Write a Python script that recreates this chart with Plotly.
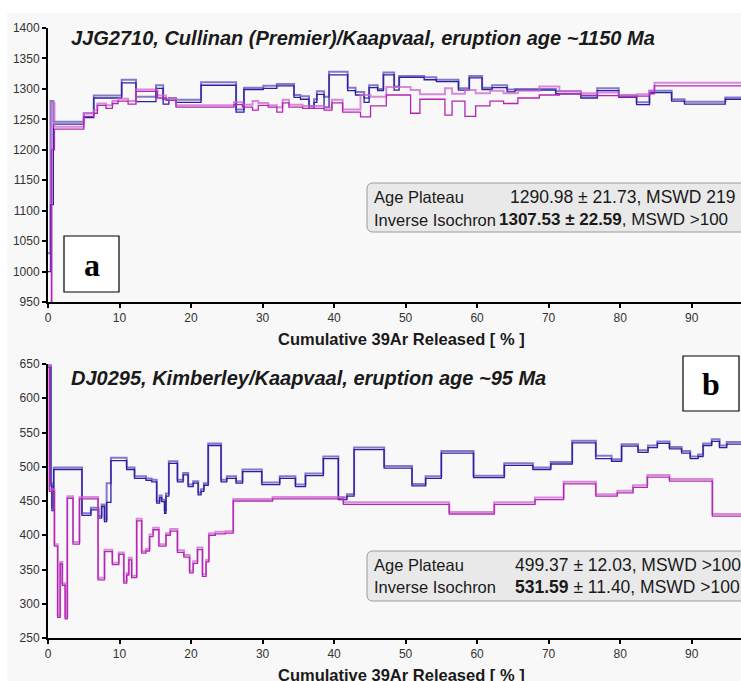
import plotly.graph_objects as go

# ---------------- DATA ----------------
# Panel a: JJG2710 (Cullinan)
a_blue_edges = [0, 0.35, 0.75, 5.0, 6.4, 10.3, 12.3, 15.1, 16.1, 16.9, 17.9, 21.4, 26.3, 27.4, 30.1, 32.0,
                34.4, 35.3, 36.5, 37.2, 37.6, 38.6, 39.3, 41.9, 43.0, 44.2, 44.9, 46.1, 46.9, 48.4, 49.1,
                52.6, 54.3, 57.4, 58.9, 60.7, 62.1, 64.2, 65.3, 71.0, 74.5, 76.8, 79.8, 82.3, 84.1, 87.2,
                89.0, 94.7, 100]
a_blue_hi = [1030, 1280, 1246, 1260, 1289, 1315, 1287, 1306, 1283, 1285, 1282, 1311, 1266, 1302, 1305,
             1308, 1290, 1288, 1272, 1283, 1296, 1287, 1328, 1302, 1295, 1285, 1306, 1300, 1327, 1304,
             1321, 1319, 1315, 1301, 1321, 1302, 1306, 1299, 1300, 1296, 1289, 1301, 1289, 1278, 1297,
             1283, 1279, 1286]
a_blue_lo = [1000, 1110, 1242, 1253, 1285, 1310, 1279, 1301, 1275, 1281, 1278, 1306, 1262, 1299, 1301,
             1305, 1286, 1283, 1268, 1278, 1291, 1270, 1323, 1297, 1290, 1278, 1302, 1297, 1323, 1298,
             1319, 1315, 1312, 1298, 1318, 1299, 1302, 1295, 1298, 1292, 1285, 1297, 1286, 1274, 1294,
             1280, 1275, 1283]

a_mag_edges = [0, 0.5, 0.9, 5.0, 6.4, 6.9, 8.1, 9.0, 9.8, 11.2, 12.3, 15.3, 16.5, 17.9, 23.0, 26.0, 27.2,
               28.6, 29.4, 30.8, 32.0, 32.8, 33.7, 35.6, 38.6, 39.7, 41.2, 43.7, 45.1, 47.3, 50.7, 52.0,
               55.5, 56.5, 58.3, 59.8, 61.8, 63.7, 65.7, 68.7, 71.5, 74.5, 76.8, 79.8, 82.3, 84.1, 84.8, 100]
a_mag_hi = [940, 1277, 1238, 1260, 1265, 1276, 1273, 1280, 1284, 1280, 1299, 1289, 1284, 1273, 1273, 1278,
            1274, 1280, 1277, 1273, 1270, 1282, 1274, 1272, 1269, 1282, 1266, 1290, 1287, 1303, 1298, 1291,
            1301, 1292, 1298, 1293, 1297, 1293, 1297, 1304, 1296, 1293, 1294, 1290, 1291, 1297, 1310]
a_mag_lo = [900, 1200, 1234, 1255, 1260, 1273, 1268, 1276, 1280, 1275, 1296, 1285, 1281, 1270, 1270, 1274,
            1270, 1265, 1273, 1270, 1262, 1277, 1270, 1268, 1265, 1277, 1262, 1254, 1272, 1290, 1260, 1283,
            1257, 1280, 1255, 1272, 1280, 1276, 1285, 1290, 1292, 1289, 1289, 1287, 1288, 1292, 1305]

# Panel b: DJ0295 (Kimberley)
b_blue_edges = [0, 0.4, 0.55, 0.8, 4.75, 6.0, 7.07, 7.5, 7.9, 8.2, 8.8, 11.0, 12.1, 13.7, 14.5, 15.2, 15.6,
                15.9, 16.3, 16.5, 16.9, 18.1, 18.9, 19.6, 20.3, 21.0, 21.4, 21.8, 22.4, 24.2, 25.0, 26.3,
                27.2, 29.9, 32.4, 34.6, 36.0, 38.5, 40.6, 41.8, 42.8, 47.0, 50.9, 52.8, 55.0, 59.5, 63.8,
                67.8, 70.3, 73.3, 76.6, 78.8, 80.2, 82.5, 83.9, 85.2, 86.9, 88.6, 89.8, 90.9, 91.6, 92.8,
                93.9, 94.9, 100]
b_blue_hi = [648, 476, 440, 499, 432, 440, 428, 445, 423, 476, 513, 499, 486, 483, 481, 450, 458, 452, 437,
             461, 508, 481, 491, 474, 479, 462, 467, 476, 534, 481, 486, 479, 496, 477, 486, 474, 490, 515,
             455, 460, 528, 501, 475, 486, 523, 487, 505, 499, 507, 538, 516, 511, 533, 524, 531, 537, 529,
             523, 515, 518, 534, 540, 531, 536]
b_blue_lo = [645, 472, 436, 496, 429, 437, 425, 442, 420, 448, 509, 496, 483, 480, 478, 447, 455, 449, 432,
             457, 505, 478, 488, 471, 476, 459, 464, 473, 531, 478, 483, 476, 493, 474, 483, 471, 487, 512,
             452, 457, 525, 498, 472, 483, 520, 484, 502, 496, 504, 535, 512, 508, 530, 521, 528, 534, 526,
             520, 512, 515, 531, 537, 528, 533]

b_mag_edges = [0, 0.2, 0.9, 1.35, 1.7, 2.0, 2.4, 2.7, 3.5, 4.4, 7.0, 7.9, 9.0, 9.9, 10.6, 11.0, 11.3, 11.7,
               12.4, 13.1, 13.7, 14.2, 14.7, 15.5, 16.5, 17.1, 18.1, 19.0, 19.8, 20.3, 20.9, 21.6, 22.1,
               22.5, 23.4, 24.8, 25.9, 31.4, 41.3, 56.1, 62.4, 68.1, 72.1, 76.6, 79.6, 81.8, 83.8, 86.9,
               92.9, 100]
b_mag_hi = [648, 467, 387, 283, 361, 330, 281, 457, 390, 456, 338, 379, 360, 375, 333, 345, 367, 341, 424,
            377, 380, 401, 411, 387, 403, 409, 378, 371, 348, 362, 382, 343, 364, 403, 405, 406, 453, 456,
            448, 434, 448, 455, 478, 460, 465, 473, 488, 482, 431]
b_mag_lo = [645, 464, 384, 280, 358, 327, 278, 454, 387, 453, 335, 376, 357, 372, 330, 342, 364, 338, 421,
            374, 377, 398, 408, 384, 400, 406, 375, 368, 345, 359, 379, 340, 361, 400, 402, 403, 450, 453,
            445, 431, 445, 452, 475, 457, 462, 470, 485, 479, 428]

x_ticks = [0, 10, 20, 30, 40, 50, 60, 70, 80, 90]
titles = ["<b><i>JJG2710, Cullinan (Premier)/Kaapvaal, eruption age ~1150 Ma</i></b>",
          "<b><i>DJ0295, Kimberley/Kaapvaal, eruption age ~95 Ma</i></b>"]
x_title = "<b>Cumulative 39Ar Released [ % ]</b>"

# ---------------- LAYOUT HELPERS ----------------
W, H = 741, 681
ML, MT, MB = 48, 28, 43
PW, PH = W - ML, H - MT - MB
PAGE_L, PAGE_B = ML, H - MB  # plot-area left / bottom in pixels


def PX(px):
    return (px - PAGE_L) / PW


def PY(py):
    return (PAGE_B - py) / PH


FONT = "Liberation Sans, Arial, sans-serif"
BLUE_L = "rgba(90,80,185,0.75)"
BLUE_D = "#2e1fa0"
MAG_L = "rgba(205,100,205,0.75)"
MAG_D = "#b326b3"

fig = go.Figure()


def add_steps(edges, vals, color, width, xa, ya):
    fig.add_trace(go.Scatter(
        x=edges, y=list(vals) + [vals[-1]], mode="lines",
        line=dict(shape="hv", color=color, width=width),
        xaxis=xa, yaxis=ya, hoverinfo="skip", showlegend=False))


add_steps(a_blue_edges, a_blue_hi, BLUE_L, 2, "x", "y")
add_steps(a_blue_edges, a_blue_lo, BLUE_D, 1.3, "x", "y")
add_steps(a_mag_edges, a_mag_hi, MAG_L, 2, "x", "y")
add_steps(a_mag_edges, a_mag_lo, MAG_D, 1.3, "x", "y")

add_steps(b_blue_edges, b_blue_hi, BLUE_L, 2, "x2", "y2")
add_steps(b_blue_edges, b_blue_lo, BLUE_D, 1.3, "x2", "y2")
add_steps(b_mag_edges, b_mag_hi, MAG_L, 2, "x2", "y2")
add_steps(b_mag_edges, b_mag_lo, MAG_D, 1.3, "x2", "y2")

xax = dict(range=[0, 96.9], tickvals=x_ticks, showline=True, linecolor="black", linewidth=2,
           ticks="outside", ticklen=4, tickwidth=2, tickcolor="black", showgrid=False, zeroline=False,
           tickfont=dict(family=FONT, size=12, color="#333"), domain=[0, 1])
yax = dict(dtick=50, showline=True, linecolor="black", linewidth=2, ticks="outside", ticklen=4,
           tickwidth=2, tickcolor="black", showgrid=False, zeroline=False,
           tickfont=dict(family=FONT, size=12, color="#333"))


def rrect(x0, y0, x1, y1, r):
    pts = [("M", [(x0 + r, y0)]), ("L", [(x1 - r, y0)]), ("Q", [(x1, y0), (x1, y0 + r)]),
           ("L", [(x1, y1 - r)]), ("Q", [(x1, y1), (x1 - r, y1)]), ("L", [(x0 + r, y1)]),
           ("Q", [(x0, y1), (x0, y1 - r)]), ("L", [(x0, y0 + r)]), ("Q", [(x0, y0), (x0 + r, y0)])]
    s = ""
    for cmd, ps in pts:
        s += cmd + " " + " ".join(f"{PX(a):.5f},{PY(b):.5f}" for a, b in ps) + " "
    return s + "Z"


shapes = [
    dict(type="rect", xref="paper", yref="paper", x0=PX(7), x1=PX(760), y0=PY(700), y1=PY(13),
         fillcolor="#f8f8f8", line=dict(width=0), layer="below"),
    dict(type="rect", xref="paper", yref="paper", x0=PX(64), x1=PX(119), y0=PY(292), y1=PY(236),
         fillcolor="white", line=dict(color="black", width=1.2)),
    dict(type="rect", xref="paper", yref="paper", x0=PX(683), x1=PX(739), y0=PY(411), y1=PY(356),
         fillcolor="white", line=dict(color="black", width=1.2)),
    dict(type="path", xref="paper", yref="paper", path=rrect(367, 183, 820, 232, 6),
         fillcolor="#e9e9e9", line=dict(color="#9a9a9a", width=1)),
    dict(type="path", xref="paper", yref="paper", path=rrect(367, 551, 820, 601, 6),
         fillcolor="#e9e9e9", line=dict(color="#9a9a9a", width=1)),
]


def ann(text, px, py, size, xanchor="left", family=FONT, color="#1a1a1a"):
    return dict(text=text, x=PX(px), y=PY(py), xref="paper", yref="paper", xanchor=xanchor,
                yanchor="middle", showarrow=False, font=dict(family=family, size=size, color=color))


annotations = [
    ann(titles[0], 69, 38, 20),
    ann(titles[1], 69, 378, 20),
    ann(x_title, 401, 339, 16.5, "center"),
    ann(x_title, 401, 675, 16.5, "center"),
    ann("<b>a</b>", 91.5, 265, 32, "center", "Liberation Serif, Times New Roman, serif", "black"),
    ann("<b>b</b>", 711, 384, 32, "center", "Liberation Serif, Times New Roman, serif", "black"),
    ann("Age Plateau", 372, 197, 16.5),
    ann("1290.98 ± 21.73, MSWD 219", 508, 197, 17.5),
    ann("Inverse Isochron", 372, 220, 16.5),
    ann("<b>1307.53 ± 22.59</b>, MSWD >100", 497, 220, 17),
    ann("Age Plateau", 372, 565, 16.5),
    ann("499.37 ± 12.03, MSWD >100", 513, 565, 17.5),
    ann("Inverse Isochron", 372, 587, 16.5),
    ann("<b>531.59</b> ± 11.40, MSWD >100", 513, 587, 17.5),
]

fig.update_layout(
    width=W, height=H, margin=dict(l=ML, r=0, t=MT, b=MB, pad=0),
    paper_bgcolor="white", plot_bgcolor="rgba(0,0,0,0)",
    xaxis=dict(xax, anchor="y"),
    xaxis2=dict(xax, anchor="y2"),
    yaxis=dict(yax, range=[950, 1400], tick0=950, domain=[PY(302), 1], anchor="x"),
    yaxis2=dict(yax, range=[250, 650], tick0=250, domain=[0, PY(364)], anchor="x2"),
    shapes=shapes, annotations=annotations, showlegend=False,
)

fig.write_html("out.html", config={"displayModeBar": False},
               post_script="document.body.style.margin='0';document.body.style.overflow='hidden';")
